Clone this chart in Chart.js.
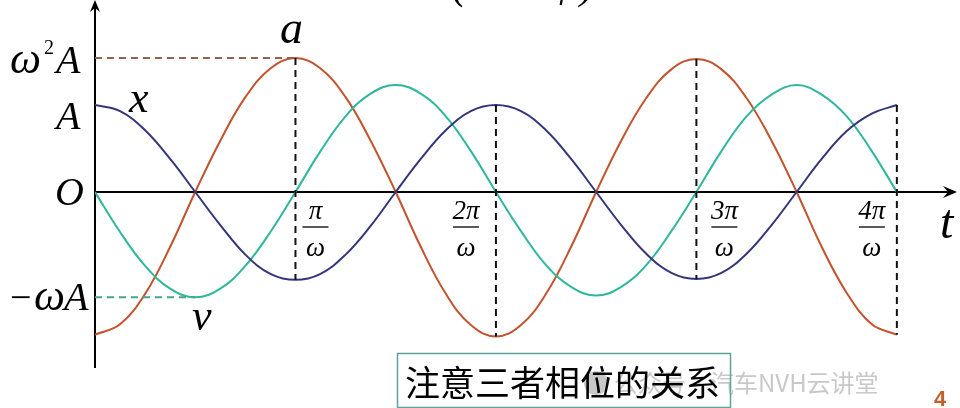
<!DOCTYPE html>
<html>
<head>
<meta charset="utf-8">
<script src="https://cdn.jsdelivr.net/npm/chart.js@4/dist/chart.umd.min.js"></script>
<style>
  html, body { margin: 0; padding: 0; background: #fff; }
  canvas { display: block; }
</style>
</head>
<body>
<canvas id="chart" width="960" height="408"></canvas>
<script>
// t in units of pi/omega, one sample every 1/8
const tValues = [
    0, 0.125, 0.25, 0.375, 0.5, 0.625, 0.75, 0.875,
    1, 1.125, 1.25, 1.375, 1.5, 1.625, 1.75, 1.875,
    2, 2.125, 2.25, 2.375, 2.5, 2.625, 2.75, 2.875,
    3, 3.125, 3.25, 3.375, 3.5, 3.625, 3.75, 3.875,
    4,
]

// values in units of A
const xValues = [
    1.00, 0.93, 0.71, 0.38, 0.00, -0.38, -0.72, -0.94,
    -1.01, -0.94, -0.72, -0.39, 0.00, 0.38, 0.71, 0.93,
    1.00, 0.93, 0.71, 0.38, 0.00, -0.38, -0.71, -0.93,
    -1.00, -0.93, -0.71, -0.38, 0.00, 0.38, 0.70, 0.90,
    1.00,
]
const vValues = [
    0.00, -0.46, -0.85, -1.11, -1.21, -1.11, -0.85, -0.46,
    0.00, 0.47, 0.87, 1.13, 1.23, 1.13, 0.87, 0.47,
    0.00, -0.45, -0.84, -1.09, -1.19, -1.09, -0.84, -0.45,
    0.00, 0.47, 0.87, 1.12, 1.23, 1.12, 0.87, 0.47,
    0.00,
]
const aValues = [
    -1.64, -1.52, -1.17, -0.63, 0.00, 0.59, 1.09, 1.42,
    1.54, 1.42, 1.09, 0.59, 0.00, -0.63, -1.17, -1.53,
    -1.66, -1.53, -1.17, -0.63, 0.00, 0.59, 1.08, 1.41,
    1.53, 1.41, 1.08, 0.59, 0.00, -0.63, -1.16, -1.52,
    -1.64,
]

const xTickValues = [1, 2, 3, 4]
const xTickNumerators = ['π', '2π', '3π', '4π']
const xTickShift = [20, -30, 28, -25]
const guideIndexes = [8, 16, 24, 32]

const serif = '"Liberation Serif", "DejaVu Serif", serif'

const points = (ys) => tValues.map((t, i) => ({ x: t, y: ys[i] }))

const curve = (label, ys, color) => ({
    label,
    data: points(ys),
    borderColor: color,
    borderWidth: 2,
    pointRadius: 0,
    tension: 0.4,
    fill: false,
})

const dashed = (data, color) => ({
    data,
    borderColor: color,
    borderWidth: 2,
    borderDash: [7, 5],
    pointRadius: 0,
    tension: 0,
    fill: false,
})

const guides = guideIndexes.map((i) => {
    const ys = [xValues[i], vValues[i], aValues[i]]
    return dashed(
        [
            { x: tValues[i], y: Math.max(...ys) },
            { x: tValues[i], y: Math.min(...ys) },
        ],
        '#111',
    )
})

const peakA = aValues[8]
const minV = vValues[4]

const decorations = {
    id: 'decorations',
    beforeDatasetsDraw(chart) {
        const { ctx, scales } = chart
        const x0 = scales.x.getPixelForValue(0)
        const y0 = scales.y.getPixelForValue(0)
        const right = chart.chartArea.right
        ctx.save()
        ctx.strokeStyle = '#000'
        ctx.fillStyle = '#000'
        ctx.lineWidth = 2
        ctx.beginPath()
        ctx.moveTo(x0, 368)
        ctx.lineTo(x0, 2)
        ctx.moveTo(x0, y0)
        ctx.lineTo(right - 4, y0)
        ctx.stroke()
        // arrow heads
        ctx.beginPath()
        ctx.moveTo(x0, 0)
        ctx.lineTo(x0 - 5, 12)
        ctx.lineTo(x0, 8)
        ctx.lineTo(x0 + 5, 12)
        ctx.closePath()
        ctx.fill()
        ctx.beginPath()
        ctx.moveTo(right, y0)
        ctx.lineTo(right - 14, y0 - 6)
        ctx.lineTo(right - 9, y0)
        ctx.lineTo(right - 14, y0 + 6)
        ctx.closePath()
        ctx.fill()
        ctx.restore()
    },
    afterDraw(chart) {
        const { ctx, scales } = chart
        const px = (v) => scales.x.getPixelForValue(v)
        const py = (v) => scales.y.getPixelForValue(v)
        ctx.save()
        ctx.fillStyle = '#000'
        ctx.textBaseline = 'alphabetic'

        // cut-off heading at the very top
        ctx.font = 'italic 44px ' + serif
        ctx.textAlign = 'left'
        ctx.fillText('(', 452, -2)
        ctx.fillText('φ', 552, -4)
        ctx.fillText(')', 580, -2)

        // y axis labels
        ctx.font = 'italic 44px ' + serif
        ctx.textAlign = 'left'
        ctx.fillText('ω', 10, py(peakA) + 15)
        ctx.font = '20px ' + serif
        ctx.fillText('2', 44, py(peakA) - 4)
        ctx.font = 'italic 40px ' + serif
        ctx.fillText('A', 56, py(peakA) + 15)
        ctx.fillText('A', 56, py(1) + 24)
        ctx.fillText('O', 55, py(0) + 13)
        ctx.font = '38px ' + serif
        ctx.fillText('−', 10, py(minV) + 13)
        ctx.font = 'italic 44px ' + serif
        ctx.fillText('ω', 34, py(minV) + 13)
        ctx.font = 'italic 40px ' + serif
        ctx.fillText('A', 64, py(minV) + 13)

        // curve names
        ctx.font = 'italic 46px ' + serif
        ctx.fillText('a', 280, 43)
        ctx.font = 'italic 44px ' + serif
        ctx.fillText('x', 129, 112)
        ctx.fillText('v', 192, 330)
        ctx.font = 'italic 48px ' + serif
        ctx.fillText('t', 940, 238)

        // fraction tick labels
        ctx.textAlign = 'center'
        xTickValues.forEach((v, i) => {
            const cx = px(v) + xTickShift[i]
            ctx.font = 'italic 27px ' + serif
            ctx.fillText(xTickNumerators[i], cx, 219)
            ctx.fillText('ω', cx, 256)
            ctx.lineWidth = 1.3
            ctx.beginPath()
            ctx.moveTo(cx - 13, 227)
            ctx.lineTo(cx + 13, 227)
            ctx.stroke()
        })

        // watermark
        ctx.globalAlpha = 0.55
        ctx.fillStyle = '#9a9a9a'
        ctx.beginPath()
        ctx.arc(596, 383, 12, 0, Math.PI * 2)
        ctx.fill()
        ctx.font = '24px "Noto Sans CJK SC", sans-serif'
        ctx.textAlign = 'left'
        ctx.fillText('公众号·汽车NVH云讲堂', 614, 392)
        ctx.globalAlpha = 1

        // note box
        ctx.strokeStyle = '#5aa597'
        ctx.lineWidth = 1.5
        ctx.strokeRect(397.5, 353.5, 333, 54)
        ctx.fillStyle = '#000'
        ctx.font = '35px "Noto Sans CJK SC", sans-serif'
        ctx.fillText('注意三者相位的关系', 405, 396)

        // page number
        ctx.fillStyle = '#c0602a'
        ctx.font = 'bold 22px "Liberation Sans", sans-serif'
        ctx.fillText('4', 934, 406)
        ctx.restore()
    },
}

new Chart(document.getElementById('chart'), {
    type: 'line',
    data: {
        datasets: [
            dashed([{ x: 0, y: peakA }, { x: tValues[8], y: peakA }], '#8d6456'),
            dashed([{ x: 0, y: minV }, { x: tValues[4], y: minV }], '#4aa48c'),
            ...guides,
            curve('x', xValues, '#35357c'),
            curve('v', vValues, '#2fb79c'),
            curve('a', aValues, '#c4522c'),
        ],
    },
    options: {
        animation: false,
        responsive: false,
        layout: { padding: { left: 95, right: 3, top: 0, bottom: 40 } },
        plugins: { legend: { display: false }, tooltip: { enabled: false } },
        scales: {
            x: { type: 'linear', min: 0, max: 4.3, display: false },
            y: { min: -2.023, max: 2.207, display: false },
        },
    },
    plugins: [decorations],
})
</script>
</body>
</html>
